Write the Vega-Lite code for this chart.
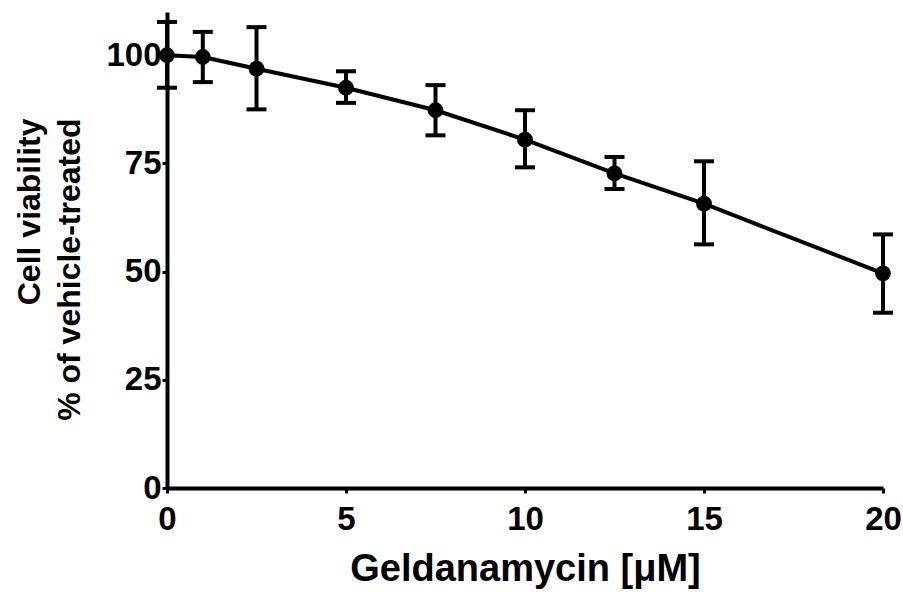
{
  "$schema": "https://vega.github.io/schema/vega-lite/v6.json",
  "width": 716,
  "height": 476,
  "autosize": "none",
  "padding": {"left": 167, "top": 12, "right": 20, "bottom": 104},
  "background": "white",
  "config": {
    "view": {"stroke": null},
    "axis": {
      "domainColor": "black",
      "domainWidth": 4,
      "tickColor": "black",
      "tickWidth": 3,
      "tickSize": 5,
      "grid": false,
      "labelFont": "Liberation Sans",
      "labelFontWeight": "bold",
      "labelFontSize": 33,
      "labelColor": "black",
      "titleFont": "Liberation Sans",
      "titleFontWeight": "bold",
      "titleColor": "black"
    }
  },
  "data": {
    "values": [
      {"conc": 0, "viability": 100, "lo": 92.5, "hi": 107.7},
      {"conc": 1, "viability": 99.6, "lo": 93.8, "hi": 105.4},
      {"conc": 2.5, "viability": 96.9, "lo": 87.5, "hi": 106.5},
      {"conc": 5, "viability": 92.5, "lo": 89.0, "hi": 96.3},
      {"conc": 7.5, "viability": 87.3, "lo": 81.5, "hi": 93.1},
      {"conc": 10, "viability": 80.5, "lo": 74.1, "hi": 87.3},
      {"conc": 12.5, "viability": 72.7, "lo": 69.1, "hi": 76.5},
      {"conc": 15, "viability": 65.7, "lo": 56.3, "hi": 75.5},
      {"conc": 20, "viability": 49.6, "lo": 40.5, "hi": 58.6}
    ]
  },
  "encoding": {
    "x": {
      "field": "conc",
      "type": "quantitative",
      "scale": {"domain": [0, 20], "nice": false},
      "axis": {"values": [0, 5, 10, 15, 20], "title": "Geldanamycin [μM]", "titleFontSize": 38, "labelPadding": 10, "titlePadding": 14, "labelFlush": false}
    }
  },
  "layer": [
    {
      "mark": {"type": "rule", "color": "black", "strokeWidth": 4, "opacity": 1},
      "encoding": {
        "y": {"field": "lo", "type": "quantitative"},
        "y2": {"field": "hi"}
      }
    },
    {
      "mark": {"type": "tick", "orient": "horizontal", "color": "black", "size": 20, "thickness": 4, "opacity": 1},
      "encoding": {"y": {"field": "lo", "type": "quantitative"}}
    },
    {
      "mark": {"type": "tick", "orient": "horizontal", "color": "black", "size": 20, "thickness": 4, "opacity": 1},
      "encoding": {"y": {"field": "hi", "type": "quantitative"}}
    },
    {
      "mark": {"type": "line", "color": "black", "strokeWidth": 4},
      "encoding": {
        "y": {
          "field": "viability",
          "type": "quantitative",
          "scale": {"domain": [0, 110], "nice": false},
          "axis": {"values": [0, 25, 50, 75, 100], "title": ["Cell viability", "% of vehicle-treated"], "titleFontSize": 32, "titleAlign": "right", "titleY": 106, "labelPadding": 1, "titlePadding": 19, "titleLineHeight": 40, "labelFlush": false}
        }
      }
    },
    {
      "mark": {"type": "point", "filled": true, "color": "black", "opacity": 1, "size": 250},
      "encoding": {"y": {"field": "viability", "type": "quantitative"}}
    }
  ]
}
